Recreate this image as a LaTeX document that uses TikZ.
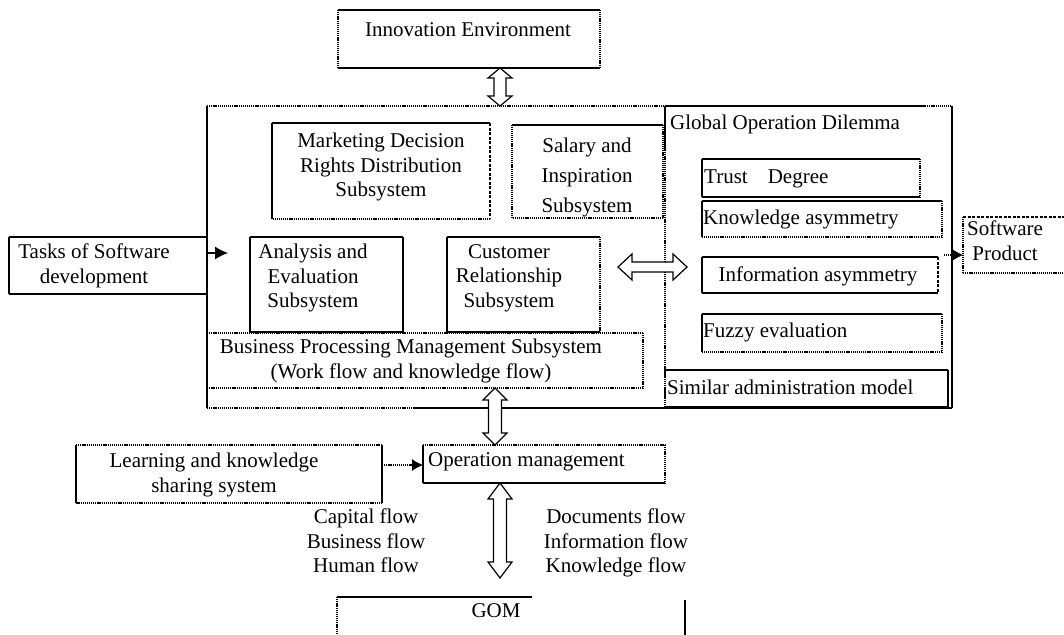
\documentclass[tikz,border=0pt]{standalone}
\usepackage{fontspec}
\setmainfont{Liberation Serif}
\usetikzlibrary{calc,fit,arrows.meta}

\tikzset{
  edge/.style={line width=1.3pt, line cap=butt},
  sl/.style={solid},
  dt/.style={dash pattern=on 1.2pt off 0.9pt},
  ds/.style={dash pattern=on 3pt off 1.5pt},
  area/.style={inner sep=0pt, outer sep=0pt},
  txt/.style={inner sep=0pt, font=\fontsize{21}{24.5}\selectfont},
  hollow/.style={draw, fill=white, line width=1.2pt, line join=miter},
  tip/.style={line width=1.2pt},
}

% four sides of a box, each with its own line style: top, right, bottom, left
\newcommand\sideframe[5]{%
  \draw[edge,#2] (#1.north west) -- (#1.north east);
  \draw[edge,#3] (#1.north east) -- (#1.south east);
  \draw[edge,#4] (#1.south east) -- (#1.south west);
  \draw[edge,#5] (#1.south west) -- (#1.north west);}

% hollow two-headed block arrow, vertical: top point, bottom point,
% shaft half width, head half width, head length
\newcommand\vdarrow[5]{%
  \draw[hollow] let \p1=#1, \p2=#2 in
    (\x1,\y1) -- (\x1+#4pt,\y1-#5pt) -- (\x1+#3pt,\y1-#5pt) -- (\x1+#3pt,\y2+#5pt)
    -- (\x1+#4pt,\y2+#5pt) -- (\x1,\y2) -- (\x1-#4pt,\y2+#5pt) -- (\x1-#3pt,\y2+#5pt)
    -- (\x1-#3pt,\y1-#5pt) -- (\x1-#4pt,\y1-#5pt) -- cycle;}

% hollow two-headed block arrow, horizontal: left point, right point, same sizes
\newcommand\hdarrow[5]{%
  \draw[hollow] let \p1=#1, \p2=#2 in
    (\x1,\y1) -- (\x1+#5pt,\y1+#4pt) -- (\x1+#5pt,\y1+#3pt) -- (\x2-#5pt,\y1+#3pt)
    -- (\x2-#5pt,\y1+#4pt) -- (\x2,\y1) -- (\x2-#5pt,\y1-#4pt) -- (\x2-#5pt,\y1-#3pt)
    -- (\x1+#5pt,\y1-#3pt) -- (\x1+#5pt,\y1-#4pt) -- cycle;}

\begin{document}
\begin{tikzpicture}[x=1pt,y=-1pt]
\useasboundingbox (0,0) rectangle (1064,634);
\fill[white] (0,0) rectangle (1064,634);

% ---- box areas
\node[area, fit={(338,10)(600,68)}]   (innov) {};
\node[area, fit={(207,106)(952,408)}] (core)  {};
\node[area, fit={(665,106)(952,408)}] (god)   {};
\node[area, fit={(272,123)(490,219)}] (mkt)   {};
\node[area, fit={(512,125)(663,218)}] (sal)   {};
\node[area, fit={(250,237)(403,332)}] (ana)   {};
\node[area, fit={(447,237)(600,332)}] (cust)  {};
\node[area, fit={(207,333)(643,388)}] (bus)   {};
\node[area, fit={(9,237)(207,294)}]   (tasks) {};
\node[area, fit={(702,159)(920,197)}] (trust) {};
\node[area, fit={(702,201)(942,237)}] (know)  {};
\node[area, fit={(702,257)(938,293)}] (info)  {};
\node[area, fit={(702,314)(942,352)}] (fuzzy) {};
\node[area, fit={(665,370)(948,407)}] (simil) {};
\node[area, fit={(963,217)(1070,273)}] (soft) {};
\node[area, fit={(76,445)(382,503)}]  (learn) {};
\node[area, fit={(423,445)(665,483)}] (oper)  {};
\node[area, fit={(337,597)(685,640)}] (gom)   {};

% ---- frames
\sideframe{innov}{sl}{dt}{sl}{dt}
\sideframe{mkt}{sl}{ds}{dt}{sl}
\sideframe{sal}{sl}{dt}{dt}{dt}
\sideframe{ana}{sl}{sl}{sl}{sl}
\sideframe{cust}{sl}{dt}{sl}{sl}
\sideframe{bus}{dt}{dt}{dt}{dt}
\sideframe{tasks}{sl}{sl}{sl}{sl}
\sideframe{trust}{sl}{dt}{sl}{sl}
\sideframe{know}{sl}{dt}{dt}{sl}
\sideframe{info}{sl}{ds}{sl}{sl}
\sideframe{fuzzy}{sl}{dt}{dt}{sl}
\sideframe{simil}{sl}{sl}{sl}{dt}
\sideframe{learn}{dt}{sl}{dt}{sl}
\sideframe{oper}{dt}{dt}{sl}{sl}

% enclosing system frame
\draw[edge,dt] (core.north west) -- (god.north west);
\draw[edge,sl] (core.north west) -- (core.south west);
\draw[edge,dt] (core.south west) -- (413,408);
\draw[edge,sl] (413,408) -- (core.south east);
\draw[edge,sl] (core.north east) -- (core.south east);
% dilemma panel
\draw[edge,sl] (god.north west) -- (925,106);
\draw[edge,dt] (925,106) -- (god.north east);
\draw[edge,sl] (god.north west) -- (665,150);
\draw[edge,dt] (665,150) -- (god.south west);
% product box (runs off the right side)
\draw[edge,ds] (soft.north west) -- (soft.north east);
\draw[edge,dt] (soft.north west) -- (soft.south west);
\draw[edge,dt] (soft.south west) -- (soft.south east);
% GOM box (runs off the bottom)
\draw[edge,sl] (gom.north west) -- ++(195,0);
\draw[edge,dt] (gom.north west) -- (gom.south west);
\draw[edge,sl] (gom.north east) ++(0,3) -- (gom.south east);

% ---- connectors
\coordinate (tasksIn) at (228,253);
\coordinate (hL) at (618,267);
\coordinate (hR) at (687,267);
\coordinate (gomIn) at (500,578);

\vdarrow{(500,0 |- innov.south)}{(500,0 |- core.north)}{6}{12}{10}
\hdarrow{(hL)}{(hR)}{5}{13}{14}
\vdarrow{(495,0 |- bus.south)}{(495,0 |- oper.north)}{6.5}{12}{12}
\vdarrow{(500,0 |- oper.south)}{(gomIn)}{6.5}{12}{16}

\draw[tip, -{Latex[length=13pt,width=13pt]}] (tasks.east |- tasksIn) -- (tasksIn);
\draw[tip, dt, -{Latex[length=11pt,width=12pt]}] (learn.east |- 0,465) -- (oper.west |- 0,465);
\draw[tip, dt, -{Latex[length=12pt,width=14pt]}] ($(god.east |- 0,255)+(-8,0)$) -- (soft.west |- 0,255);

% ---- texts
\node[txt, anchor=base] (innovT) at (468,37) {Innovation Environment};
\node[txt, anchor=north, align=center] (mktT) at (381,133)
  {Marketing Decision\\Rights Distribution\\Subsystem};
\node[txt, anchor=north, align=center] (salT) at (587,138)
  {Salary and\\[5.5pt]Inspiration\\[5.5pt]Subsystem};
\node[txt, anchor=north, align=center] (anaT) at (313,244)
  {Analysis and\\Evaluation\\Subsystem};
\node[txt, anchor=north, align=center] (custT) at (509,244)
  {Customer\\Relationship\\Subsystem};
\node[txt, anchor=north, align=center] (busT) at (411,339)
  {Business Processing Management Subsystem\\(Work flow and knowledge flow)};
\node[txt, anchor=north, align=center] (tasksT) at (94,244)
  {Tasks of Software\\development};
\node[txt, anchor=base west] (godT) at (670,129) {Global Operation Dilemma};
\node[txt, anchor=base west] (trustT) at (704,183) {Trust\hspace{20pt}Degree};
\node[txt, anchor=base west] (knowT) at (703,224) {Knowledge asymmetry};
\node[txt, anchor=base] (infoT) at (818,281) {Information asymmetry};
\node[txt, anchor=base west] (fuzzyT) at (703,337) {Fuzzy evaluation};
\node[txt, anchor=base west] (similT) at (667,394) {Similar administration model};
\node[txt, anchor=north, align=center] (softT) at (1005,221) {Software\\Product};
\node[txt, anchor=north, align=center] (learnT) at (214,453)
  {Learning and knowledge\\sharing system};
\node[txt, anchor=base west] (operT) at (428,466) {Operation management};
\node[txt, anchor=north, align=center] (flowL) at (366,509)
  {Capital flow\\Business flow\\Human flow};
\node[txt, anchor=north, align=center] (flowR) at (616,509)
  {Documents flow\\Information flow\\Knowledge flow};
\node[txt, anchor=base] (gomT) at (496,617) {GOM};
\end{tikzpicture}
\end{document}
